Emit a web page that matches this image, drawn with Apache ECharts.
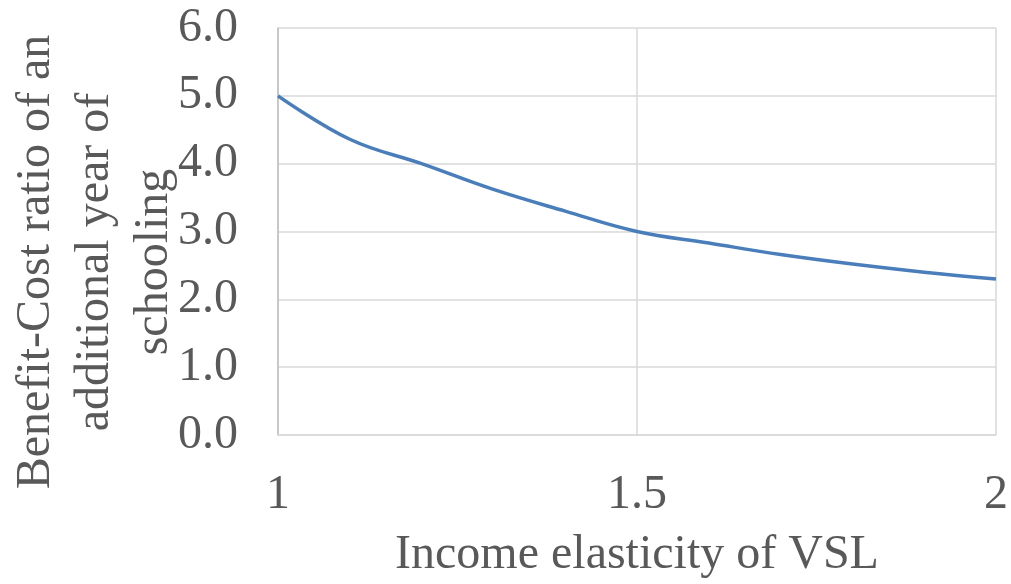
<!DOCTYPE html>
<html>
<head>
<meta charset="utf-8">
<script src="https://cdn.jsdelivr.net/npm/echarts@6/dist/echarts.min.js"></script>
<style>html,body{margin:0;padding:0;background:#fff}#c{width:1011px;height:584px}</style>
</head>
<body>
<div id="c"></div>
<script>
const elasticity = [1.0, 1.1, 1.2, 1.3, 1.4, 1.5, 1.6, 1.7, 1.8, 1.9, 2.0];
const bcRatio = [5.0, 4.36, 4.0, 3.62, 3.30, 3.0, 2.83, 2.66, 2.52, 2.40, 2.30];
const xTicks = [1, 1.5, 2];
const yTicks = [0, 1, 2, 3, 4, 5, 6];
const xName = 'Income elasticity of VSL';
const yNameLines = ['Benefit-Cost ratio of an', 'additional year of', 'schooling'];

const font = '"Liberation Serif", "Times New Roman", serif';
const chart = echarts.init(document.getElementById('c'), null, {renderer: 'canvas'});
chart.setOption({
  animation: false,
  grid: {left: 278, right: 13, top: 28, bottom: 146},
  xAxis: {
    type: 'value', min: 1, max: 2, interval: 0.5,
    name: xName, nameLocation: 'middle', nameGap: 96,
    nameTextStyle: {fontFamily: font, fontSize: 48, color: '#595959'},
    axisLine: {show: true, lineStyle: {color: '#d9d9d9', width: 1.5}},
    axisTick: {show: false},
    splitLine: {show: true, lineStyle: {color: '#d9d9d9', width: 1.5}},
    axisLabel: {fontFamily: font, fontSize: 48, color: '#595959', margin: 36,
      formatter: v => xTicks.includes(v) ? String(v) : ''}
  },
  yAxis: {
    type: 'value', min: 0, max: 6, interval: 1,
    axisLine: {show: true, lineStyle: {color: '#bfbfbf', width: 1.5}},
    axisTick: {show: false},
    splitLine: {show: true, lineStyle: {color: '#d9d9d9', width: 1.5}},
    axisLabel: {fontFamily: font, fontSize: 48, color: '#595959', margin: 40,
      formatter: v => yTicks.includes(v) ? v.toFixed(1) : ''}
  },
  graphic: [{
    type: 'text', x: 95, y: 262, rotation: Math.PI / 2,
    style: {text: yNameLines.join('\n'), fontFamily: font, fontSize: 48, lineHeight: 59,
      fill: '#595959', align: 'center', verticalAlign: 'middle'}
  }],
  series: [{
    type: 'line', smooth: 0.4, symbol: 'none',
    data: elasticity.map((x, i) => [x, bcRatio[i]]),
    lineStyle: {color: '#4a7ebb', width: 3.5}
  }]
});
</script>
</body>
</html>
